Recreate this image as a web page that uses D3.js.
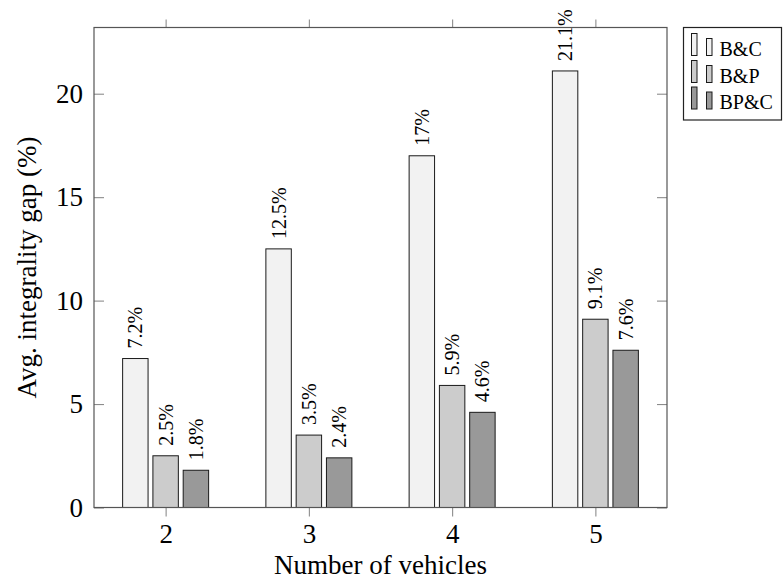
<!DOCTYPE html>
<html>
<head>
<meta charset="utf-8">
<script src="https://cdn.jsdelivr.net/npm/d3@7"></script>
<style>
  body { margin: 0; background: #fff; }
  svg { display: block; }
</style>
</head>
<body>
<div id="chart"></div>
<script>
{ // start block scope

  // data
  const vehicles = [2, 3, 4, 5];
  const seriesNames = ['B&C', 'B&P', 'BP&C'];
  const bcGap = [7.2, 12.5, 17, 21.1];
  const bpGap = [2.5, 3.5, 5.9, 9.1];
  const bpcGap = [1.8, 2.4, 4.6, 7.6];
  const yTicks = [0, 5, 10, 15, 20];

  const colors = ['#f2f2f2', '#cccccc', '#999999'];
  const font = 'Liberation Serif';

  // constants
  const totalWidth = 783;
  const totalHeight = 584;
  const margin = { top: 27.5, left: 94, bottom: 76.5, right: 116 };
  const width = totalWidth - margin.left - margin.right;
  const height = totalHeight - margin.top - margin.bottom;

  const svg = d3.select('#chart')
    .append('svg')
    .attr('width', totalWidth)
    .attr('height', totalHeight)
    .attr('font-family', font);

  const g = svg.append('g')
    .attr('transform', `translate(${margin.left}, ${margin.top})`);

  // scales
  const xScale = d3.scaleLinear().domain([1.5, 5.5]).range([0, width]);
  const yScale = d3.scaleLinear().domain([0, 23.2]).range([height, 0]);
  const offset = d3.scaleBand().domain(seriesNames).range([-43, 43]).paddingInner(0.16);

  // axes
  g.append('g')
    .attr('transform', `translate(0, ${height})`)
    .call(d3.axisBottom(xScale).tickValues(vehicles).tickFormat(d3.format('d')).tickSize(9).tickPadding(7));
  g.append('g')
    .call(d3.axisTop(xScale).tickValues(vehicles).tickFormat('').tickSize(8));
  g.append('g')
    .call(d3.axisLeft(yScale).tickValues(yTicks).tickSize(-10).tickPadding(11));
  g.append('g')
    .attr('transform', `translate(${width}, 0)`)
    .call(d3.axisRight(yScale).tickValues(yTicks).tickFormat('').tickSize(-10));

  g.selectAll('.domain').remove();
  g.selectAll('g').attr('font-family', font);
  g.selectAll('.tick line').attr('stroke', '#8c8c8c').attr('stroke-width', 1.1);
  g.selectAll('.tick text')
    .attr('font-family', font)
    .attr('font-size', 27)
    .attr('fill', '#000');

  // bars
  const series = [bcGap, bpGap, bpcGap];
  series.forEach((vals, si) => {
    const name = seriesNames[si];
    const bx = d => xScale(d) + offset(name);
    g.selectAll(null)
      .data(vehicles)
      .enter()
      .append('rect')
      .attr('x', d => bx(d))
      .attr('y', (d, i) => yScale(vals[i]))
      .attr('width', offset.bandwidth())
      .attr('height', (d, i) => height - yScale(vals[i]))
      .attr('fill', colors[si])
      .attr('stroke', '#1a1a1a')
      .attr('stroke-width', 1);

    g.selectAll(null)
      .data(vehicles)
      .enter()
      .append('text')
      .attr('transform', (d, i) =>
        `translate(${bx(d) + offset.bandwidth() / 2}, ${yScale(vals[i]) - 10}) rotate(-90)`)
      .attr('dy', '0.35em')
      .attr('font-family', font)
      .attr('font-size', 20)
      .text((d, i) => vals[i] + '%');
  });

  // frame
  g.append('rect')
    .attr('width', width)
    .attr('height', height)
    .attr('fill', 'none')
    .attr('stroke', '#555')
    .attr('stroke-width', 1.2);

  // axis titles
  svg.append('text')
    .attr('x', margin.left + width / 2)
    .attr('y', 574)
    .attr('text-anchor', 'middle')
    .attr('font-family', font)
    .attr('font-size', 27)
    .text('Number of vehicles');

  svg.append('text')
    .attr('transform', `translate(36, ${margin.top + height / 2}) rotate(-90)`)
    .attr('text-anchor', 'middle')
    .attr('font-family', font)
    .attr('font-size', 27)
    .text('Avg. integrality gap (%)');

  // legend
  const legend = svg.append('g');
  legend.append('rect')
    .attr('x', 683.5)
    .attr('y', 27.5)
    .attr('width', 98)
    .attr('height', 92.5)
    .attr('fill', '#fff')
    .attr('stroke', '#222')
    .attr('stroke-width', 1.2);

  const legendY = [55.5, 82.5, 109];
  seriesNames.forEach((name, i) => {
    const base = legendY[i];
    legend.append('rect')
      .attr('x', 691.5).attr('y', base - 22)
      .attr('width', 5.5).attr('height', 22)
      .attr('fill', colors[i]).attr('stroke', '#1a1a1a').attr('stroke-width', 1);
    legend.append('rect')
      .attr('x', 706.5).attr('y', base - 17)
      .attr('width', 5.5).attr('height', 17)
      .attr('fill', colors[i]).attr('stroke', '#1a1a1a').attr('stroke-width', 1);
    legend.append('text')
      .attr('x', 719.5)
      .attr('y', base)
      .attr('font-family', font)
      .attr('font-size', 20)
      .text(name);
  });

} // end block scope
</script>
</body>
</html>
